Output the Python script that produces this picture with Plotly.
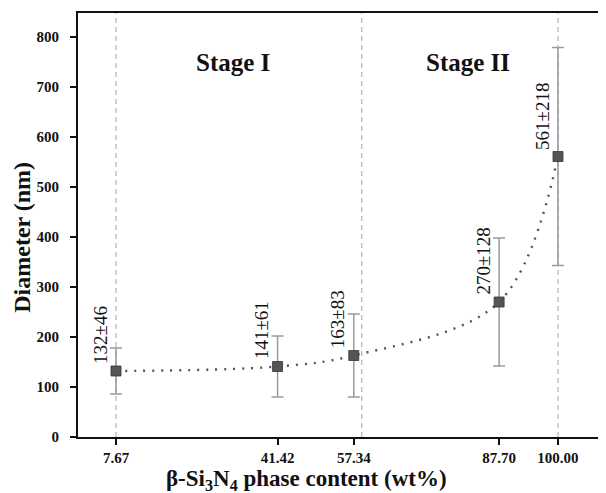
import plotly.graph_objects as go

# Data
beta_content = [7.67, 41.42, 57.34, 87.70, 100.00]
diameter = [132, 141, 163, 270, 561]
diameter_sd = [46, 61, 83, 128, 218]
tick_labels = ["7.67", "41.42", "57.34", "87.70", "100.00"]
y_ticks = [0, 100, 200, 300, 400, 500, 600, 700, 800]
stage_bounds = [7.67, 59.0, 100.00]
stage_names = ["Stage I", "Stage II"]
stage_label_x = [32.1, 81.2]
stage_label_y = [750, 750]

FONT = "Liberation Serif"

fig = go.Figure()

# vertical dashed stage boundaries
for xb in stage_bounds:
    fig.add_shape(type="line", xref="x", yref="paper", x0=xb, x1=xb, y0=0, y1=1,
                  line=dict(color="#b8b8b8", width=1.3, dash="5px,4px"), layer="below")

fig.add_trace(go.Scatter(
    x=beta_content, y=diameter, mode="lines+markers",
    line=dict(color="#555555", width=2.4, dash="2px,7px", shape="spline", smoothing=1.0),
    marker=dict(symbol="square", size=10, color="#555555", line=dict(color="#333333", width=0.8)),
    error_y=dict(type="data", array=diameter_sd, visible=True, color="#9a9a9a", thickness=1.5, width=6),
    showlegend=False, hoverinfo="x+y",
))

# value labels
for xv, yv, sd in zip(beta_content, diameter, diameter_sd):
    fig.add_annotation(x=xv, y=yv, text=f"{yv}±{sd}", showarrow=False, textangle=-90,
                       xanchor="center", yanchor="bottom", xshift=-16, yshift=5,
                       font=dict(family=FONT, size=19, color="#111111"))

for name, xs, ys in zip(stage_names, stage_label_x, stage_label_y):
    fig.add_annotation(x=xs, y=ys, text=f"<b>{name}</b>", showarrow=False,
                       font=dict(family=FONT, size=25, color="#111111"))

# axis titles
fig.add_annotation(xref="paper", yref="paper", x=0.432, y=-0.101, xanchor="center", yanchor="middle",
                   text="<b>β-Si<sub>3</sub>N<sub>4</sub> phase content (wt%)</b>", showarrow=False,
                   font=dict(family=FONT, size=23, color="#111111"))
fig.add_annotation(xref="paper", yref="paper", x=-0.106, y=0.47, xanchor="center", yanchor="middle",
                   text="<b>Diameter (nm)</b>", showarrow=False, textangle=-90,
                   font=dict(family=FONT, size=24, color="#111111"))

# page body has an 8px default margin, so the figure is sized to fit the window
fig.update_layout(
    width=598, height=485,
    margin=dict(l=70, r=0, t=5, b=56),
    plot_bgcolor="white", paper_bgcolor="white",
    font=dict(family=FONT, color="#111111"),
)
fig.update_xaxes(
    range=[-0.27, 110.03], tickmode="array", tickvals=beta_content, ticktext=[f"<b>{t}</b>" for t in tick_labels],
    showgrid=False, zeroline=False, showline=True, linecolor="#111111", linewidth=2, mirror=True,
    ticks="outside", ticklen=6, tickwidth=2, tickcolor="#111111", automargin=False,
    ticklabelstandoff=0,
    tickfont=dict(family=FONT, size=15, color="#111111"),
)
fig.update_yaxes(
    range=[0, 848], tickmode="array", tickvals=y_ticks,
    ticktext=[f"<b>{v}</b>" for v in y_ticks],
    showgrid=False, zeroline=False, showline=True, linecolor="#111111", linewidth=2, mirror=False,
    ticks="outside", ticklen=6, tickwidth=2, tickcolor="#111111", automargin=False,
    ticklabelstandoff=8,
    tickfont=dict(family=FONT, size=15, color="#111111"),
)

fig.write_html("out.html")
